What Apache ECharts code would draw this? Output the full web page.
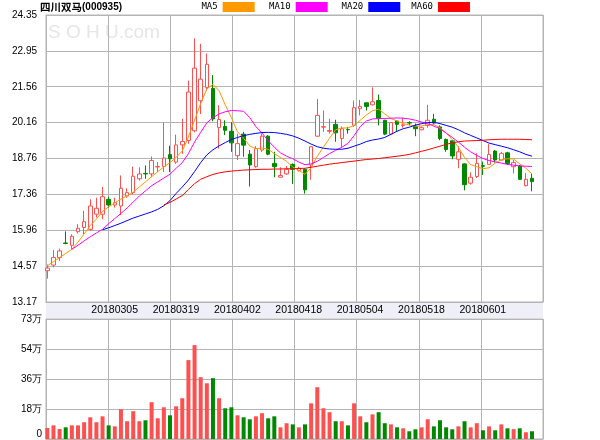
<!DOCTYPE html>
<html><head><meta charset="utf-8">
<script src="https://cdn.jsdelivr.net/npm/echarts@6/dist/echarts.min.js"></script>
<style>html,body{margin:0;padding:0;background:#fff}#c{width:600px;height:440px}</style>
</head><body><div id="c"></div>
<script>
const dates = ['20180212','20180213','20180214','20180222','20180223','20180226','20180227','20180228','20180301','20180302',
'20180305','20180306','20180307','20180308','20180309','20180312','20180313','20180314','20180315','20180316',
'20180319','20180320','20180321','20180322','20180323','20180326','20180327','20180328','20180329','20180330',
'20180402','20180403','20180404','20180409','20180410','20180411','20180412','20180413','20180416','20180417',
'20180418','20180419','20180420','20180423','20180424','20180425','20180426','20180427','20180502','20180503',
'20180504','20180507','20180508','20180509','20180510','20180511','20180514','20180515','20180516','20180517',
'20180518','20180521','20180522','20180523','20180524','20180525','20180528','20180529','20180530','20180531',
'20180601','20180604','20180605','20180606','20180607','20180608','20180611','20180612','20180613','20180614'];
const opens = [14.39,14.61,14.90,15.47,15.38,15.91,16.07,16.00,16.59,16.59,
17.17,16.95,16.91,17.30,17.43,17.97,18.18,18.16,18.43,18.45,
18.91,18.62,19.29,19.46,19.84,21.01,21.53,21.49,19.97,20.01,
19.82,18.87,19.71,18.93,18.44,19.09,19.63,18.57,18.03,18.16,
18.53,18.29,18.34,18.51,19.63,19.98,19.82,20.09,19.54,19.89,
20.05,20.70,20.93,20.85,21.02,20.25,19.71,20.22,20.05,20.16,
20.01,19.88,20.05,20.29,19.99,19.50,19.45,18.73,18.55,17.80,
18.06,18.48,18.53,19.05,18.70,18.98,18.44,18.47,17.70,17.99];
const closes = [14.49,14.90,15.16,15.45,15.73,16.04,16.30,16.91,16.82,17.27,
16.95,17.04,17.60,17.43,18.07,18.16,18.16,18.68,18.45,18.78,
18.75,19.29,19.42,21.35,22.28,21.85,22.43,20.30,20.28,19.86,
19.37,19.34,19.28,18.51,19.15,19.63,18.93,18.44,18.10,18.34,
18.34,18.38,17.54,19.22,20.44,20.00,19.85,19.76,19.92,19.88,
20.74,20.79,20.79,20.97,20.31,19.71,20.16,20.09,20.07,20.14,
19.92,19.96,20.25,20.14,19.54,19.11,18.86,19.02,17.74,18.03,
18.57,18.46,18.92,18.70,18.96,18.57,18.60,17.95,17.95,17.86];
const lows = [14.08,14.52,14.77,15.42,15.23,15.84,15.81,15.94,16.46,16.39,
16.85,16.85,16.56,17.23,17.36,17.90,17.97,18.03,18.23,18.23,
18.23,18.55,18.94,19.33,19.78,20.49,21.40,20.21,19.15,19.67,
19.02,18.70,18.83,17.67,18.40,19.02,18.89,18.03,18.03,18.12,
17.77,18.25,17.39,17.93,19.60,19.80,19.73,19.41,19.19,19.73,
19.99,20.44,20.63,20.83,20.05,19.67,19.67,19.80,19.96,20.05,
19.63,19.86,19.96,20.08,19.47,19.02,18.73,18.38,17.52,17.74,
18.00,18.12,18.51,18.60,18.68,18.51,18.18,17.93,17.67,17.48];
const highs = [14.63,15.19,15.25,15.92,15.81,16.20,16.72,17.17,17.23,17.65,
17.27,17.23,18.10,17.60,18.44,18.42,18.49,18.84,18.62,20.16,
19.26,19.69,20.30,21.79,23.44,23.23,22.85,22.01,20.84,20.25,
20.18,19.73,19.80,19.09,19.24,19.73,19.67,19.02,18.42,18.47,
18.57,18.44,18.38,19.24,21.08,20.63,20.31,20.27,20.01,19.99,
21.02,21.04,20.93,21.53,21.25,20.27,20.18,20.25,20.35,20.21,
20.12,20.01,20.85,20.50,20.05,19.54,19.47,19.24,18.57,18.22,
18.96,18.64,19.32,19.09,19.02,19.02,18.70,18.51,18.19,18.16];
const volumes = [6.7,8.3,6.1,7.1,8.3,8.3,10.2,13.2,10.2,13.8,
8.3,7.7,18.1,10.8,16.9,10.8,11.4,22.4,12.6,19.3,
14.4,19.9,24.8,48.0,57.1,37.6,33.9,37.0,24.8,18.7,
19.3,14.4,13.2,12.0,13.8,15.7,12.6,13.8,7.1,9.6,
8.9,7.1,8.9,21.7,31.5,18.7,16.3,10.8,10.8,8.3,
21.7,13.8,10.2,15.0,16.3,9.6,8.9,7.1,6.5,4.7,
5.9,7.1,12.0,7.7,11.4,7.1,5.9,7.7,10.8,7.1,
9.6,5.3,7.7,5.3,8.9,6.5,6.0,6.5,4.1,4.7];
const ma5 = [14.58,14.74,14.90,15.06,15.22,15.50,15.82,16.15,16.40,16.70,
16.88,17.03,17.18,17.30,17.45,17.65,17.85,18.05,18.25,18.43,
18.60,18.80,19.05,19.60,20.25,20.90,21.47,21.65,21.40,20.85,
20.35,19.80,19.55,19.25,19.14,19.17,19.12,18.95,18.80,18.65,
18.43,18.30,18.14,18.40,18.85,19.20,19.55,19.88,19.95,19.95,
20.05,20.25,20.45,20.62,20.68,20.50,20.32,20.22,20.12,20.07,
20.02,20.03,20.08,20.08,19.96,19.75,19.50,19.20,18.80,18.52,
18.44,18.36,18.40,18.58,18.72,18.75,18.74,18.55,18.38,18.16];
const ma10 = [null,null,null,null,15.22,15.38,15.55,15.71,15.86,16.00,
16.22,16.42,16.62,16.83,17.06,17.30,17.50,17.70,17.85,18.00,
18.15,18.38,18.60,18.95,19.40,19.78,20.15,20.35,20.50,20.58,
20.63,20.62,20.60,20.35,20.00,19.75,19.45,19.20,18.98,18.85,
18.75,18.62,18.52,18.55,18.65,18.80,18.95,19.08,19.20,19.35,
19.65,20.00,20.22,20.30,20.32,20.32,20.33,20.34,20.33,20.30,
20.25,20.18,20.12,20.02,19.92,19.75,19.58,19.40,19.20,19.02,
18.88,18.76,18.68,18.63,18.58,18.53,18.50,18.47,18.46,18.45];
const ma20 = [null,null,null,null,null,null,null,null,null,15.98,
16.06,16.15,16.24,16.34,16.44,16.52,16.60,16.68,16.78,16.92,
17.12,17.40,17.65,17.92,18.25,18.60,18.90,19.10,19.25,19.38,
19.50,19.58,19.65,19.70,19.74,19.77,19.78,19.77,19.74,19.70,
19.64,19.55,19.44,19.32,19.22,19.16,19.13,19.12,19.12,19.16,
19.24,19.32,19.42,19.48,19.52,19.58,19.70,19.82,19.92,19.98,
20.06,20.12,20.16,20.17,20.12,20.05,19.98,19.88,19.76,19.66,
19.56,19.46,19.36,19.30,19.24,19.18,19.10,19.02,18.92,18.85];
const ma60 = [null,null,null,null,null,null,null,null,null,null,
null,null,null,null,null,null,null,null,null,16.95,
17.05,17.18,17.32,17.55,17.78,17.95,18.05,18.14,18.20,18.24,
18.27,18.29,18.31,18.32,18.33,18.34,18.34,18.35,18.35,18.36,
18.36,18.37,18.38,18.42,18.46,18.50,18.54,18.57,18.60,18.63,
18.66,18.69,18.72,18.74,18.76,18.79,18.82,18.85,18.88,18.92,
18.98,19.04,19.10,19.17,19.24,19.31,19.37,19.41,19.44,19.45,
19.46,19.47,19.49,19.50,19.51,19.51,19.51,19.51,19.50,19.49];
const priceTicks = ['13.17','14.57','15.96','17.36','18.76','20.16','21.56','22.95','24.35'];
const volTicks = ['0','18万','36万','54万','73万'];
const volTickValues = [0, 18.25, 36.5, 54.75, 73];

const UP = '#ff5050', DOWN = '#008800', GRIDC = '#b4b4b4';
const pMin = Number(priceTicks[0]), pMax = Number(priceTicks[priceTicks.length - 1]);
const pStep = (pMax - pMin) / (priceTicks.length - 1);
const vMax = volTickValues[volTickValues.length - 1];
const vStep = volTickValues[1];
const cats = dates.concat([' ', '  ']);
const candle = dates.map((d, i) => [opens[i], closes[i], lows[i], highs[i]]);
const vol = volumes.map((v, i) => ({ value: v, itemStyle: { color: closes[i] >= opens[i] ? UP : DOWN } }));

const FL = { left: 46, width: 497 };
const DL = { left: 47.3, width: 497 };
const mainTop = 15, mainH = 287, volTop = 319, volH = 120;
const labelFont = 'Liberation Sans';

const hiddenAxis = (grid, extra) => Object.assign({ gridIndex: grid, show: false, axisLine: {show:false}, axisTick:{show:false}, axisLabel:{show:false}, splitLine:{show:false} }, extra);

const chart = echarts.init(document.getElementById('c'), null, { renderer: 'canvas' });
chart.setOption({
  animation: false,
  backgroundColor: '#fff',
  title: {
    text: '{a|四川双马}{b|(000935)}', left: 40, top: 2, padding: 0,
    textStyle: { rich: {
      a: { fontFamily: 'Noto Sans CJK SC', fontSize: 10.5, color: '#000' },
      b: { fontFamily: labelFont, fontSize: 10, color: '#000' }
    } }
  },
  legend: [['MA5', 201.4], ['MA10', 269], ['MA20', 341.6], ['MA60', 411.3]].map(([n, l]) => ({
    data: [n], left: l, top: 2, padding: 0, itemGap: 0, itemWidth: 32, itemHeight: 10,
    align: 'right', icon: 'rect', selectedMode: false,
    textStyle: { fontFamily: 'DejaVu Sans Mono', fontSize: 9, color: '#000' }
  })),
  graphic: [{
    type: 'text', left: 48, top: 23, z: -10, silent: true,
    style: { text: 'S O H U.com', font: '19px "Liberation Sans"', fill: '#e6e6e6' }
  }],
  grid: [
    { left: FL.left, width: FL.width, top: mainTop, height: mainH, show: true, borderColor: GRIDC, borderWidth: 1 },
    { left: DL.left, width: DL.width, top: mainTop, height: mainH },
    { left: FL.left, width: FL.width, top: mainTop + mainH, height: volTop - mainTop - mainH - 1, show: true, backgroundColor: '#eeeff7', borderWidth: 0 },
    { left: FL.left, width: FL.width, top: volTop, height: volH, show: true, borderColor: GRIDC, borderWidth: 1 },
    { left: DL.left, width: DL.width, top: volTop, height: volH }
  ],
  xAxis: [
    { type: 'value', gridIndex: 0, min: 0, max: 8, interval: 1,
      axisLine: { show: true, lineStyle: { color: GRIDC } }, axisTick: { show: false }, axisLabel: { show: false },
      splitLine: { show: true, lineStyle: { color: GRIDC, width: 1 } } },
    { type: 'category', gridIndex: 1, data: cats, boundaryGap: false,
      axisLine: { show: false }, axisTick: { show: false }, splitLine: { show: false },
      axisLabel: { show: true, interval: (i) => i > 0 && i % 10 === 0 && i < dates.length,
        margin: 3, fontFamily: labelFont, fontSize: 10.5, color: '#000', padding: [0, 0, 0, 12] } },
    hiddenAxis(2, { type: 'value', min: 0, max: 1 }),
    { type: 'value', gridIndex: 3, min: 0, max: 8, interval: 1,
      axisLine: { show: true, lineStyle: { color: GRIDC } }, axisTick: { show: false }, axisLabel: { show: false },
      splitLine: { show: true, lineStyle: { color: GRIDC, width: 1 } } },
    hiddenAxis(4, { type: 'category', data: cats, boundaryGap: false })
  ],
  yAxis: [
    { type: 'value', gridIndex: 0, min: pMin, max: pMax, interval: pStep,
      axisLine: { show: true, lineStyle: { color: GRIDC } }, axisTick: { show: false },
      splitLine: { show: true, lineStyle: { color: GRIDC, width: 1 } },
      axisLabel: { margin: 9, fontFamily: labelFont, fontSize: 10, color: '#000',
        formatter: (v) => priceTicks[Math.round((v - pMin) / pStep)] } },
    hiddenAxis(1, { type: 'value', min: pMin, max: pMax }),
    hiddenAxis(2, { type: 'value', min: 0, max: 1 }),
    { type: 'value', gridIndex: 3, min: 0, max: vMax, interval: vStep,
      axisLine: { show: true, lineStyle: { color: GRIDC } }, axisTick: { show: false },
      splitLine: { show: true, lineStyle: { color: GRIDC, width: 1 } },
      axisLabel: { margin: 4, fontFamily: labelFont, fontSize: 10, color: '#000',
        formatter: (v) => { const k = Math.round(v / vStep); return k === 0 ? '{z|' + volTicks[0] + '}' : volTicks[k]; },
        rich: { z: { fontFamily: labelFont, fontSize: 10, color: '#000', padding: [0, 0, 10, 0] } } } },
    hiddenAxis(4, { type: 'value', min: 0, max: vMax })
  ],
  series: [
    { type: 'candlestick', name: 'K', xAxisIndex: 1, yAxisIndex: 1, data: candle, barWidth: 4, clip: false, z: 2,
      itemStyle: { color: '#ffffff', color0: DOWN, borderColor: UP, borderColor0: DOWN, borderWidth: 1 } },
    { type: 'line', name: 'MA5', xAxisIndex: 1, yAxisIndex: 1, data: ma5, symbol: 'none', z: 3,
      lineStyle: { color: '#ff9900', width: 1 }, itemStyle: { color: '#ff9900' } },
    { type: 'line', name: 'MA10', xAxisIndex: 1, yAxisIndex: 1, data: ma10, symbol: 'none', z: 3,
      lineStyle: { color: '#ff00ff', width: 1 }, itemStyle: { color: '#ff00ff' } },
    { type: 'line', name: 'MA20', xAxisIndex: 1, yAxisIndex: 1, data: ma20, symbol: 'none', z: 3,
      lineStyle: { color: '#0000ff', width: 1 }, itemStyle: { color: '#0000ff' } },
    { type: 'line', name: 'MA60', xAxisIndex: 1, yAxisIndex: 1, data: ma60, symbol: 'none', z: 3,
      lineStyle: { color: '#ff0000', width: 1 }, itemStyle: { color: '#ff0000' } },
    { type: 'bar', name: 'VOL', xAxisIndex: 4, yAxisIndex: 4, data: vol, barWidth: 4, clip: false }
  ]
});
</script>
</body></html>
